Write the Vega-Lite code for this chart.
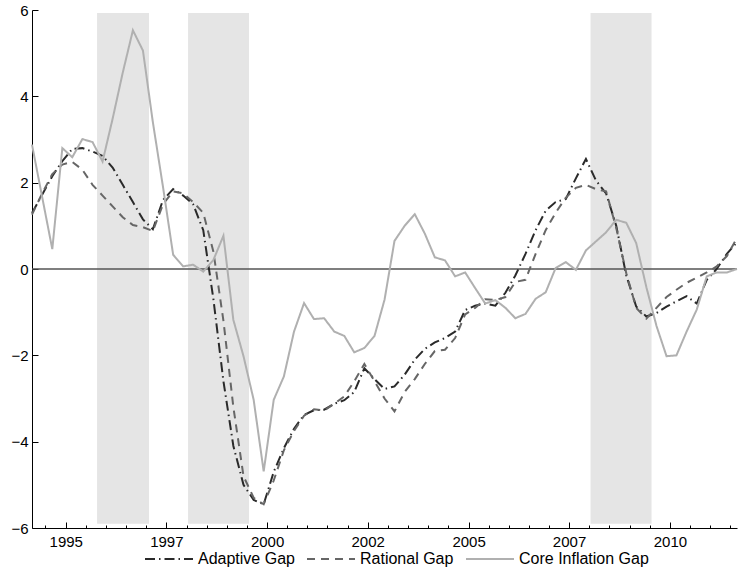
{
  "$schema": "https://vega.github.io/schema/vega-lite/v6.json",
  "width": 705,
  "height": 518,
  "autosize": {"type": "none"},
  "padding": {"left": 32, "top": 10, "right": 1, "bottom": 39},
  "background": "white",
  "config": {
    "view": {"stroke": null},
    "font": "Liberation Sans",
    "axis": {"domainColor": "black", "tickColor": "black", "labelColor": "black", "labelFont": "Liberation Sans", "labelFontSize": 15, "grid": false, "title": null, "domainWidth": 1, "tickWidth": 1}
  },
  "resolve": {"axis": {"x": "independent"}},
  "datasets": {
    "recessions": [
      {"start": "1995-10-12", "end": "1997-01-25"},
      {"start": "1998-01-14", "end": "1999-07-21"},
      {"start": "2008-01-12", "end": "2009-07-18"}
    ],
    "gaps": [
      {"date": "1994-03-01", "Adaptive Gap": 1.30, "Rational Gap": 1.26, "Core Inflation Gap": 2.88},
      {"date": "1994-06-01", "Adaptive Gap": 1.72, "Rational Gap": 1.75, "Core Inflation Gap": 1.67},
      {"date": "1994-09-01", "Adaptive Gap": 2.15, "Rational Gap": 2.20, "Core Inflation Gap": 0.46},
      {"date": "1994-12-01", "Adaptive Gap": 2.50, "Rational Gap": 2.42, "Core Inflation Gap": 2.80},
      {"date": "1995-03-01", "Adaptive Gap": 2.78, "Rational Gap": 2.48, "Core Inflation Gap": 2.59},
      {"date": "1995-06-01", "Adaptive Gap": 2.80, "Rational Gap": 2.30, "Core Inflation Gap": 3.01},
      {"date": "1995-09-01", "Adaptive Gap": 2.72, "Rational Gap": 1.95, "Core Inflation Gap": 2.94},
      {"date": "1995-12-01", "Adaptive Gap": 2.62, "Rational Gap": 1.70, "Core Inflation Gap": 2.49},
      {"date": "1996-03-01", "Adaptive Gap": 2.35, "Rational Gap": 1.45, "Core Inflation Gap": 3.48},
      {"date": "1996-06-01", "Adaptive Gap": 1.95, "Rational Gap": 1.20, "Core Inflation Gap": 4.55},
      {"date": "1996-09-01", "Adaptive Gap": 1.55, "Rational Gap": 1.02, "Core Inflation Gap": 5.53},
      {"date": "1996-12-01", "Adaptive Gap": 1.15, "Rational Gap": 0.97, "Core Inflation Gap": 5.06},
      {"date": "1997-03-01", "Adaptive Gap": 0.92, "Rational Gap": 0.88, "Core Inflation Gap": 3.40},
      {"date": "1997-06-01", "Adaptive Gap": 1.60, "Rational Gap": 1.50, "Core Inflation Gap": 1.90},
      {"date": "1997-09-01", "Adaptive Gap": 1.85, "Rational Gap": 1.80, "Core Inflation Gap": 0.33},
      {"date": "1997-12-01", "Adaptive Gap": 1.70, "Rational Gap": 1.75, "Core Inflation Gap": 0.06},
      {"date": "1998-03-01", "Adaptive Gap": 1.50, "Rational Gap": 1.55, "Core Inflation Gap": 0.10},
      {"date": "1998-06-01", "Adaptive Gap": 0.90, "Rational Gap": 1.30, "Core Inflation Gap": -0.06},
      {"date": "1998-09-01", "Adaptive Gap": -0.70, "Rational Gap": 0.40, "Core Inflation Gap": 0.21},
      {"date": "1998-12-01", "Adaptive Gap": -2.60, "Rational Gap": -1.20, "Core Inflation Gap": 0.77},
      {"date": "1999-03-01", "Adaptive Gap": -4.10, "Rational Gap": -3.20, "Core Inflation Gap": -1.18},
      {"date": "1999-06-01", "Adaptive Gap": -5.00, "Rational Gap": -4.80, "Core Inflation Gap": -2.02},
      {"date": "1999-09-01", "Adaptive Gap": -5.35, "Rational Gap": -5.30, "Core Inflation Gap": -3.03},
      {"date": "1999-12-01", "Adaptive Gap": -5.45, "Rational Gap": -5.45, "Core Inflation Gap": -4.69},
      {"date": "2000-03-01", "Adaptive Gap": -4.70, "Rational Gap": -4.90, "Core Inflation Gap": -3.03},
      {"date": "2000-06-01", "Adaptive Gap": -4.15, "Rational Gap": -4.20, "Core Inflation Gap": -2.49},
      {"date": "2000-09-01", "Adaptive Gap": -3.70, "Rational Gap": -3.75, "Core Inflation Gap": -1.45},
      {"date": "2000-12-01", "Adaptive Gap": -3.38, "Rational Gap": -3.40, "Core Inflation Gap": -0.79},
      {"date": "2001-03-01", "Adaptive Gap": -3.27, "Rational Gap": -3.25, "Core Inflation Gap": -1.16},
      {"date": "2001-06-01", "Adaptive Gap": -3.26, "Rational Gap": -3.28, "Core Inflation Gap": -1.14},
      {"date": "2001-09-01", "Adaptive Gap": -3.12, "Rational Gap": -3.12, "Core Inflation Gap": -1.45},
      {"date": "2001-12-01", "Adaptive Gap": -3.04, "Rational Gap": -2.95, "Core Inflation Gap": -1.55},
      {"date": "2002-03-01", "Adaptive Gap": -2.85, "Rational Gap": -2.60, "Core Inflation Gap": -1.93},
      {"date": "2002-06-01", "Adaptive Gap": -2.30, "Rational Gap": -2.20, "Core Inflation Gap": -1.83},
      {"date": "2002-09-01", "Adaptive Gap": -2.55, "Rational Gap": -2.60, "Core Inflation Gap": -1.55},
      {"date": "2002-12-01", "Adaptive Gap": -2.78, "Rational Gap": -3.00, "Core Inflation Gap": -0.71},
      {"date": "2003-03-01", "Adaptive Gap": -2.72, "Rational Gap": -3.30, "Core Inflation Gap": 0.65},
      {"date": "2003-06-01", "Adaptive Gap": -2.45, "Rational Gap": -2.85, "Core Inflation Gap": 1.00},
      {"date": "2003-09-01", "Adaptive Gap": -2.10, "Rational Gap": -2.55, "Core Inflation Gap": 1.27},
      {"date": "2003-12-01", "Adaptive Gap": -1.85, "Rational Gap": -2.20, "Core Inflation Gap": 0.82},
      {"date": "2004-03-01", "Adaptive Gap": -1.70, "Rational Gap": -1.90, "Core Inflation Gap": 0.27},
      {"date": "2004-06-01", "Adaptive Gap": -1.60, "Rational Gap": -1.87, "Core Inflation Gap": 0.20},
      {"date": "2004-09-01", "Adaptive Gap": -1.45, "Rational Gap": -1.60, "Core Inflation Gap": -0.17},
      {"date": "2004-12-01", "Adaptive Gap": -0.95, "Rational Gap": -1.05, "Core Inflation Gap": -0.08},
      {"date": "2005-03-01", "Adaptive Gap": -0.85, "Rational Gap": -0.90, "Core Inflation Gap": -0.44},
      {"date": "2005-06-01", "Adaptive Gap": -0.80, "Rational Gap": -0.70, "Core Inflation Gap": -0.80},
      {"date": "2005-09-01", "Adaptive Gap": -0.85, "Rational Gap": -0.72, "Core Inflation Gap": -0.72},
      {"date": "2005-12-01", "Adaptive Gap": -0.55, "Rational Gap": -0.65, "Core Inflation Gap": -0.90},
      {"date": "2006-03-01", "Adaptive Gap": -0.15, "Rational Gap": -0.30, "Core Inflation Gap": -1.14},
      {"date": "2006-06-01", "Adaptive Gap": 0.35, "Rational Gap": -0.25, "Core Inflation Gap": -1.04},
      {"date": "2006-09-01", "Adaptive Gap": 0.90, "Rational Gap": 0.35, "Core Inflation Gap": -0.69},
      {"date": "2006-12-01", "Adaptive Gap": 1.35, "Rational Gap": 0.90, "Core Inflation Gap": -0.54},
      {"date": "2007-03-01", "Adaptive Gap": 1.55, "Rational Gap": 1.30, "Core Inflation Gap": 0.02},
      {"date": "2007-06-01", "Adaptive Gap": 1.62, "Rational Gap": 1.65, "Core Inflation Gap": 0.16},
      {"date": "2007-09-01", "Adaptive Gap": 2.10, "Rational Gap": 1.88, "Core Inflation Gap": -0.02},
      {"date": "2007-12-01", "Adaptive Gap": 2.55, "Rational Gap": 1.95, "Core Inflation Gap": 0.43},
      {"date": "2008-03-01", "Adaptive Gap": 2.05, "Rational Gap": 1.85, "Core Inflation Gap": 0.64},
      {"date": "2008-06-01", "Adaptive Gap": 1.75, "Rational Gap": 1.80, "Core Inflation Gap": 0.85},
      {"date": "2008-09-01", "Adaptive Gap": 1.00, "Rational Gap": 0.95, "Core Inflation Gap": 1.14},
      {"date": "2008-12-01", "Adaptive Gap": -0.15, "Rational Gap": -0.10, "Core Inflation Gap": 1.07},
      {"date": "2009-03-01", "Adaptive Gap": -0.87, "Rational Gap": -0.90, "Core Inflation Gap": 0.60},
      {"date": "2009-06-01", "Adaptive Gap": -1.10, "Rational Gap": -1.15, "Core Inflation Gap": -0.42},
      {"date": "2009-09-01", "Adaptive Gap": -1.02, "Rational Gap": -0.90, "Core Inflation Gap": -1.32},
      {"date": "2009-12-01", "Adaptive Gap": -0.87, "Rational Gap": -0.65, "Core Inflation Gap": -2.02},
      {"date": "2010-03-01", "Adaptive Gap": -0.75, "Rational Gap": -0.48, "Core Inflation Gap": -2.00},
      {"date": "2010-06-01", "Adaptive Gap": -0.63, "Rational Gap": -0.32, "Core Inflation Gap": -1.45},
      {"date": "2010-09-01", "Adaptive Gap": -0.80, "Rational Gap": -0.20, "Core Inflation Gap": -0.94},
      {"date": "2010-12-01", "Adaptive Gap": -0.25, "Rational Gap": -0.08, "Core Inflation Gap": -0.17},
      {"date": "2011-03-01", "Adaptive Gap": 0.00, "Rational Gap": 0.06, "Core Inflation Gap": -0.08},
      {"date": "2011-06-01", "Adaptive Gap": 0.35, "Rational Gap": 0.30, "Core Inflation Gap": -0.08},
      {"date": "2011-09-01", "Adaptive Gap": 0.62, "Rational Gap": 0.72, "Core Inflation Gap": 0.00}
    ]
  },
  "layer": [
    {
      "data": {"name": "recessions"},
      "mark": {"type": "rect", "color": "#e5e5e5"},
      "encoding": {
        "x": {
          "field": "start", "type": "temporal",
          "scale": {"type": "utc", "domain": [{"year": 1994, "month": 3, "date": 1, "utc": true}, {"year": 2011, "month": 9, "date": 1, "utc": true}]},
          "axis": {
            "title": null,
            "orient": "bottom",
            "values": [
              {"year": 1995, "month": 1, "date": 1, "utc": true},
              {"year": 1997, "month": 7, "date": 1, "utc": true},
              {"year": 2000, "month": 1, "date": 1, "utc": true},
              {"year": 2002, "month": 7, "date": 1, "utc": true},
              {"year": 2005, "month": 1, "date": 1, "utc": true},
              {"year": 2007, "month": 7, "date": 1, "utc": true},
              {"year": 2010, "month": 1, "date": 1, "utc": true}
            ],
            "labelExpr": "utcFormat(datum.value + 172800000, '%Y')",
            "tickSize": -6,
            "labelPadding": 12.5,
            "labelOverlap": false,
            "labelFlush": false,
            "labelBound": false
          }
        },
        "x2": {"field": "end"},
        "y": {
          "datum": -5.9, "type": "quantitative",
          "scale": {"domain": [-6, 6], "nice": false, "zero": false},
          "axis": {"title": null, "values": [-6, -4, -2, 0, 2, 4, 6], "tickSize": -6, "labelPadding": 10, "labelFlush": false}
        },
        "y2": {"datum": 5.93}
      }
    },
    {
      "data": {"values": [{}]},
      "mark": {"type": "rule", "color": "#555555", "strokeWidth": 1.3},
      "encoding": {"y": {"datum": 0, "type": "quantitative"}}
    },
    {
      "data": {"name": "gaps"},
      "transform": [{"fold": ["Adaptive Gap", "Rational Gap", "Core Inflation Gap"], "as": ["series", "value"]}],
      "mark": {"type": "line", "strokeWidth": 2, "strokeCap": "butt"},
      "encoding": {
        "x": {
          "field": "date", "type": "temporal", "scale": {"type": "utc"},
          "axis": {
            "title": null,
            "orient": "bottom",
            "domain": false,
            "labels": false,
            "tickSize": -3,
            "values": [
              {"year": 1994, "month": 7, "utc": true}, {"year": 1995, "month": 7, "utc": true},
              {"year": 1996, "month": 1, "utc": true}, {"year": 1996, "month": 7, "utc": true}, {"year": 1997, "month": 1, "utc": true},
              {"year": 1998, "month": 1, "utc": true}, {"year": 1998, "month": 7, "utc": true},
              {"year": 1999, "month": 1, "utc": true}, {"year": 1999, "month": 7, "utc": true},
              {"year": 2000, "month": 7, "utc": true}, {"year": 2001, "month": 1, "utc": true}, {"year": 2001, "month": 7, "utc": true},
              {"year": 2002, "month": 1, "utc": true}, {"year": 2003, "month": 1, "utc": true},
              {"year": 2003, "month": 7, "utc": true}, {"year": 2004, "month": 1, "utc": true}, {"year": 2004, "month": 7, "utc": true},
              {"year": 2005, "month": 7, "utc": true}, {"year": 2006, "month": 1, "utc": true},
              {"year": 2006, "month": 7, "utc": true}, {"year": 2007, "month": 1, "utc": true},
              {"year": 2008, "month": 1, "utc": true}, {"year": 2008, "month": 7, "utc": true}, {"year": 2009, "month": 1, "utc": true},
              {"year": 2009, "month": 7, "utc": true}, {"year": 2010, "month": 7, "utc": true},
              {"year": 2011, "month": 1, "utc": true}, {"year": 2011, "month": 7, "utc": true}
            ]
          }
        },
        "y": {"field": "value", "type": "quantitative"},
        "color": {
          "field": "series", "type": "nominal",
          "scale": {"domain": ["Adaptive Gap", "Rational Gap", "Core Inflation Gap"], "range": ["#2a2a2a", "#666666", "#b0b0b0"]},
          "legend": {"orient": "none", "legendX": 112, "legendY": 524, "direction": "horizontal", "title": null, "symbolType": "stroke", "symbolSize": 2304, "symbolStrokeWidth": 2, "labelFontSize": 16, "labelFont": "Liberation Sans", "labelColor": "black", "labelOffset": 4, "columnPadding": 8, "padding": 0}
        },
        "strokeDash": {
          "field": "series", "type": "nominal",
          "scale": {"domain": ["Adaptive Gap", "Rational Gap", "Core Inflation Gap"], "range": [[10, 4, 1.5, 4], [8, 6], [1, 0]]},
          "legend": {"orient": "none", "legendX": 112, "legendY": 524, "direction": "horizontal", "title": null, "symbolType": "stroke", "symbolSize": 2304, "symbolStrokeWidth": 2, "labelFontSize": 16, "labelFont": "Liberation Sans", "labelColor": "black", "labelOffset": 4, "columnPadding": 8, "padding": 0}
        }
      }
    }
  ]
}
